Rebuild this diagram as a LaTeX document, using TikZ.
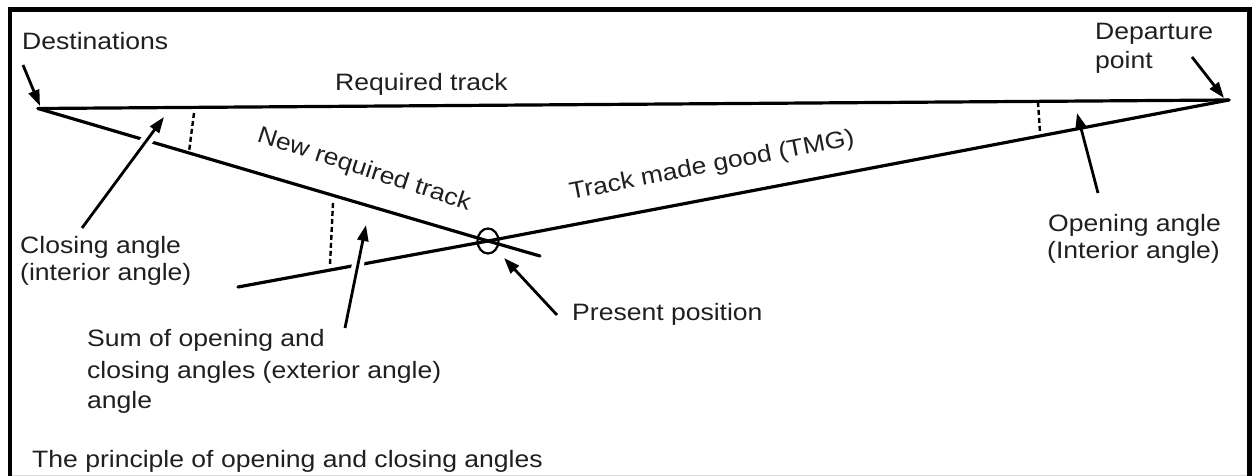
\documentclass[tikz,border=0pt]{standalone}
\usepackage{fontspec}
\setmainfont[FakeStretch=1.12]{Liberation Sans}
\usetikzlibrary{arrows.meta,shapes.geometric}
\begin{document}
\begin{tikzpicture}[x=1pt,y=-1pt,
  lbl/.style={anchor=base west, inner sep=0pt, font=\fontsize{23.7}{28}\selectfont, text=black!88},
  rlbl/.style={anchor=center, inner sep=0pt, font=\fontsize{23.7}{28}\selectfont, text=black!88},
  trk/.style={line width=3.2pt, line cap=round},
  ang/.style={line width=2.4pt, dash pattern=on 5pt off 3pt},
  ptr/.style={line width=2.8pt, -{Triangle[length=16pt,width=11pt]}},
  halo/.style={white, line width=12pt, shorten >=20pt, shorten <=6pt},
  frame/.style={line width=4.5pt}]
\useasboundingbox (0,0) rectangle (1259,476);
% frame
\coordinate (fbl) at (10,478);
\coordinate (ftl) at (10,9.5);
\coordinate (ftr) at (1249.5,9.5);
\coordinate (fbr) at (1249.5,478);
\coordinate (bl) at (10,475.5);
\coordinate (br) at (1249,475.5);
\draw[black!15, line width=1pt] (bl) -- (br);
\draw[frame] (fbl) -- (ftl) -- (ftr) -- (fbr);
% key points
\coordinate (D) at (38,108.5);
\coordinate (P) at (1229,100);
\coordinate (C) at (488,241);
\coordinate (E1) at (540,256);
\coordinate (E2) at (238,287);
% tracks
\draw[trk] (D) -- (P);
\draw[trk] (D) -- (C) -- (E1);
\draw[trk] (P) -- (C) -- (E2);
% present position circle
\node[draw, line width=2.2pt, ellipse, minimum width=21pt, minimum height=25pt, inner sep=0pt] (pp) at (C) {};
% angle marks
\coordinate (ca1) at (194,113);
\coordinate (ca2) at (189,152);
\draw[ang] (ca1) -- (ca2);
\coordinate (ea1) at (333,203);
\coordinate (ea2) at (330,265);
\draw[ang] (ea1) -- (ea2);
\coordinate (oa1) at (1038,102);
\coordinate (oa2) at (1040,133);
\draw[ang] (oa1) -- (oa2);
% arrows
\coordinate (dT) at (23,65);   \coordinate (dH) at (40,106);
\coordinate (pT) at (1192,57); \coordinate (pH) at (1224,98);
\coordinate (cT) at (82,228);  \coordinate (cH) at (164,117);
\coordinate (xT) at (345,328); \coordinate (xH) at (366,225);
\coordinate (oT) at (1098,193);\coordinate (oH) at (1077,113);
\coordinate (nT) at (557,315); \coordinate (nH) at (504,258);
\draw[halo] (cT) -- (cH);
\draw[halo] (xT) -- (xH);
\draw[halo] (oT) -- (oH);
\draw[ptr] (dT) -- (dH);
\draw[ptr] (pT) -- (pH);
\draw[ptr] (cT) -- (cH);
\draw[ptr] (xT) -- (xH);
\draw[ptr] (oT) -- (oH);
\draw[ptr] (nT) -- (nH);
% labels
\node[lbl] (tDest) at (22,50) {Destinations};
\node[lbl] (tReq) at (335,91) {Required track};
\node[lbl] (tDep1) at (1095,40) {Departure};
\node[lbl] (tDep2) at (1095,69) {point};
\node[lbl] (tOp1) at (1048,231) {Opening angle};
\node[lbl] (tOp2) at (1047,258) {(Interior angle)};
\node[lbl] (tCl1) at (20,253) {Closing angle};
\node[lbl] (tCl2) at (20,280) {(interior angle)};
\node[lbl] (tPres) at (572,320) {Present position};
\node[lbl] (tSum1) at (87,346) {Sum of opening and};
\node[lbl] (tSum2) at (87,378) {closing angles (exterior angle)};
\node[lbl] (tSum3) at (87,408) {angle};
\node[lbl] (tCap) at (32,467) {The principle of opening and closing angles};
\node[rlbl, rotate=-18] (tNew) at (364,170) {New required track};
\node[rlbl, rotate=11] (tTMG) at (712,166) {Track made good (TMG)};
\end{tikzpicture}
\end{document}
